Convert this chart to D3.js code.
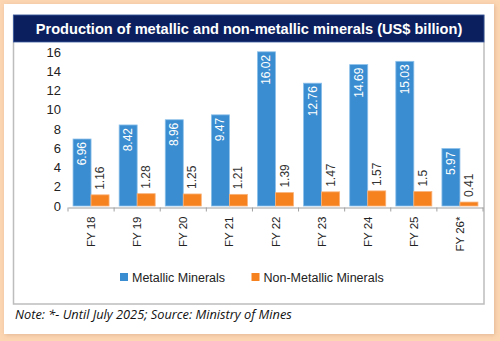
<!DOCTYPE html>
<html>
<head>
<meta charset="utf-8">
<script src="https://cdn.jsdelivr.net/npm/d3@7"></script>
<style>
  html, body { margin: 0; padding: 0; background: #fcd5b2; }
  svg { display: block; }
</style>
</head>
<body>
<div id="chart"></div>
<script>
const blue   = '#3a8dd0';
const orange = '#f5821f';
const navy   = '#0b1f5e';
const ink    = '#222';

const years     = ['FY 18', 'FY 19', 'FY 20', 'FY 21', 'FY 22', 'FY 23', 'FY 24', 'FY 25', "FY 26*"];
const series    = ['Metallic Minerals', 'Non-Metallic Minerals'];
const metallic  = [6.96, 8.42, 8.96, 9.47, 16.02, 12.76, 14.69, 15.03, 5.97];
const nonMetal  = [1.16, 1.28, 1.25, 1.21, 1.39, 1.47, 1.57, 1.5, 0.41];
const yTicks    = [0, 2, 4, 6, 8, 10, 12, 14, 16];

const W = 500, H = 341;
const svg = d3.select('#chart').append('svg').attr('width', W).attr('height', H);

const defs = svg.append('defs');
const f = defs.append('filter').attr('id', 'shadow').attr('x', '-5%').attr('y', '-5%').attr('width', '110%').attr('height', '110%');
f.append('feDropShadow').attr('dx', 1).attr('dy', 1).attr('stdDeviation', 2).attr('flood-color', '#b08060').attr('flood-opacity', 0.35);

// card
svg.append('rect').attr('x', 4).attr('y', 4).attr('width', 490).attr('height', 330)
  .attr('fill', '#fff').attr('filter', 'url(#shadow)');

// chart frame + title bar
svg.append('rect').attr('x', 13.5).attr('y', 15.5).attr('width', 470.5).attr('height', 288.5)
  .attr('fill', '#fff').attr('stroke', '#bdbdbd').attr('stroke-width', 1.5);
svg.append('rect').attr('x', 13.5).attr('y', 15).attr('width', 470.5).attr('height', 27)
  .attr('fill', navy).attr('stroke', '#3b5aa0').attr('stroke-width', 0.8);
svg.append('text').attr('x', 249).attr('y', 33.5).attr('text-anchor', 'middle')
  .style('font-family', 'Liberation Sans, Arial, sans-serif').style('font-weight', 'bold')
  .style('font-size', '14.6px').style('fill', '#fff')
  .text('Production of metallic and non-metallic minerals (US$ billion)');

const x  = d3.scaleBand().domain(years).range([68, 483]);
const x1 = d3.scaleBand().domain(series).range([0, x.bandwidth()]).paddingOuter(0.28);
const y  = d3.scaleLinear().domain([0, 16]).range([206, 52]);

const rows = years.map((yr, i) => ({ yr, vals: [metallic[i], nonMetal[i]] }));

// y axis labels
svg.append('g').selectAll('text').data(yTicks).join('text')
  .attr('x', 61).attr('y', d => y(d)).attr('dy', '0.36em').attr('text-anchor', 'end')
  .style('font-family', 'Liberation Sans, Arial, sans-serif').style('font-size', '13px').style('fill', ink)
  .text(d => d);

// bars
const grp = svg.append('g').selectAll('g').data(rows).join('g')
  .attr('transform', d => `translate(${x(d.yr)},0)`);

grp.selectAll('rect').data(d => d.vals.map((v, j) => ({ s: series[j], v, j }))).join('rect')
  .attr('x', d => x1(d.s))
  .attr('y', d => y(d.v))
  .attr('width', x1.bandwidth())
  .attr('height', d => y(0) - y(d.v))
  .attr('fill', d => d.j === 0 ? blue : orange)
  .attr('stroke', d => d.j === 0 ? '#8cc0ea' : '#f9b27a')
  .attr('stroke-width', 0.8);

// value labels
grp.selectAll('text').data(d => d.vals.map((v, j) => ({ s: series[j], v, j }))).join('text')
  .attr('transform', d => {
    const cx = x1(d.s) + x1.bandwidth() / 2;
    const ty = d.j === 0 ? y(d.v) + 3 : y(d.v) - 5;
    return `translate(${cx + 4},${ty}) rotate(-90)`;
  })
  .attr('text-anchor', d => d.j === 0 ? 'end' : 'start')
  .style('font-family', 'Liberation Sans, Arial, sans-serif').style('font-size', '12px')
  .style('fill', d => d.j === 0 ? '#fff' : '#333')
  .text(d => d.v);

// x axis
const xa = svg.append('g').attr('transform', 'translate(0,207.5)')
  .call(d3.axisBottom(x).tickSize(0).tickPadding(0));
xa.select('.domain').attr('stroke', '#a0a0a0');
xa.selectAll('.tick text')
  .attr('transform', 'translate(4,9) rotate(-90)')
  .attr('text-anchor', 'end').attr('dy', 0).attr('y', 0).attr('x', 0)
  .style('font-family', 'Liberation Sans, Arial, sans-serif').style('font-size', '11.5px').style('fill', ink);
xa.selectAll('.sep').data(years.concat(['end'])).join('line')
  .attr('class', 'sep')
  .attr('x1', (d, i) => i < years.length ? x(d) : x.range()[1])
  .attr('x2', (d, i) => i < years.length ? x(d) : x.range()[1])
  .attr('y1', 0).attr('y2', 4).attr('stroke', '#a0a0a0');

// legend
const legX = [120, 251.5];
const leg = svg.append('g').selectAll('g').data(series).join('g')
  .attr('transform', (d, i) => `translate(${legX[i]},277)`);
leg.append('rect').attr('x', 0).attr('y', -4).attr('width', 8).attr('height', 8)
  .attr('fill', (d, i) => i === 0 ? blue : orange);
leg.append('text').attr('x', 12).attr('dy', '0.36em')
  .style('font-family', 'Liberation Sans, Arial, sans-serif').style('font-size', '12.5px').style('fill', ink)
  .text(d => d);

// note
svg.append('text').attr('x', 15).attr('y', 319)
  .style('font-family', 'Open Sans, sans-serif').style('font-style', 'italic')
  .style('font-size', '12.8px').style('fill', '#111')
  .text('Note: *- Until July 2025; Source: Ministry of Mines');
</script>
</body>
</html>
